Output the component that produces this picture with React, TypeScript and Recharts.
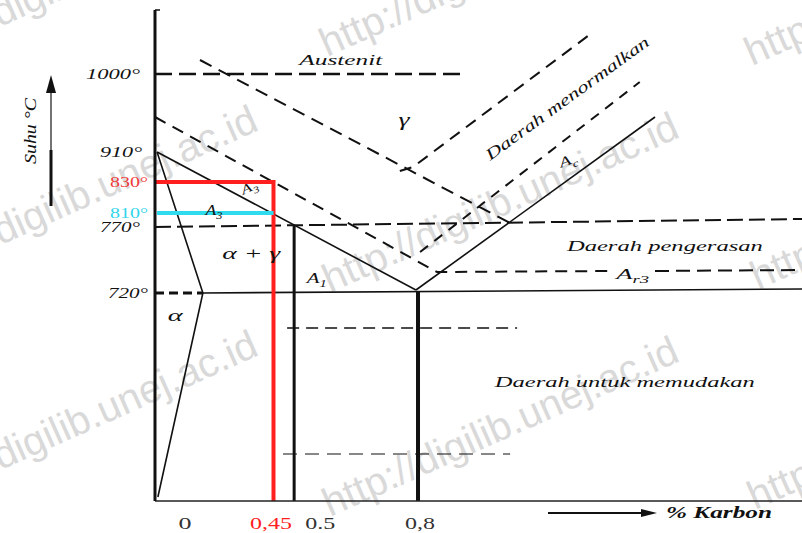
import React from 'react';
import { ComposedChart, Line, Scatter, XAxis, YAxis } from 'recharts';

// Schematic Fe-C diagram. x = carbon content (% C, schematic scale), y = diagram height level (schematic temperature)
const carbonTicks = [0.163, 0.45, 0.5, 0.8];
const carbonTickLabels = ['0', '0,45', '0.5', '0,8'];
const tempLevels = [427, 349, 319, 288, 274, 208];
const tempLabels = ['1000°', '910°', '830°', '810°', '770°', '720°'];

const isotherm1000 = [{ x: 0.163, y: 427 }, { x: 0.906, y: 427 }];
const austeniteUpper = [{ x: 0.272, y: 441 }, { x: 1.023, y: 278 }];
const normalizingUpper = [{ x: 0.756, y: 330 }, { x: 0.788, y: 334 }, { x: 1.221, y: 468 }];
const hardeningLeft = [{ x: 0.163, y: 384 }, { x: 0.846, y: 229 }, { x: 1.27, y: 230 }];
const hardeningRight = [{ x: 1.374, y: 230 }, { x: 1.73, y: 231 }];
const a3Line = [{ x: 0.168, y: 349 }, { x: 0.795, y: 211 }];
const acmLine = [{ x: 0.795, y: 211 }, { x: 1.374, y: 384 }];
const acLine = [{ x: 0.805, y: 249 }, { x: 1.337, y: 419 }];
const isotherm770 = [{ x: 0.163, y: 274 }, { x: 1.73, y: 282 }];
const isotherm720Left = [{ x: 0.163, y: 208 }, { x: 0.279, y: 208 }];
const isotherm720 = [{ x: 0.279, y: 208 }, { x: 1.73, y: 212 }];
const alphaBoundary = [{ x: 0.168, y: 349 }, { x: 0.279, y: 208 }, { x: 0.17, y: 4 }];
const steel045At830 = [{ x: 0.163, y: 319 }, { x: 0.45, y: 319 }, { x: 0.45, y: 0 }];
const steel045At810 = [{ x: 0.168, y: 288 }, { x: 0.45, y: 288 }];
const carbon05 = [{ x: 0.5, y: 275 }, { x: 0.5, y: 0 }];
const carbon08 = [{ x: 0.8, y: 210 }, { x: 0.8, y: 0 }];
const guideUpper = [{ x: 0.483, y: 173 }, { x: 1.04, y: 173 }];
const guideLower = [{ x: 0.473, y: 47 }, { x: 1.023, y: 47 }];

const noteTexts = ['Austenit', 'γ', 'Daerah menormalkan', 'A_c', 'Daerah pengerasan', 'A_r3', 'Daerah untuk memudakan', 'α + γ', 'A_3', 'A_3', 'A_1', 'α'];
const noteX = [0.613, 0.766, 1.161, 1.163, 1.398, 1.32, 1.301, 0.396, 0.306, 0.391, 0.555, 0.212];
const noteY = [441, 381, 403, 341, 255, 227, 119, 248, 291, 314, 223, 186];

// styles (not data)
const BLACK = '#111';
const RED = '#ff1f1f';
const CYAN = '#2fdcee';
const serif = "'Liberation Serif', 'DejaVu Serif', 'Times New Roman', serif";
const sans = "'Liberation Sans', Arial, 'DejaVu Sans', sans-serif";

const noteStyles = [
  { size: 15, w: 83 },
  { size: 18, w: 11 },
  { size: 16, w: 198, angle: -36 },
  { size: 14, w: 18, angle: -20 },
  { size: 15, w: 196 },
  { size: 14, w: 33 },
  { size: 15, w: 260 },
  { size: 16, w: 58 },
  { size: 14, w: 17 },
  { size: 13, w: 17, angle: -25 },
  { size: 14, w: 20 },
  { size: 17, w: 15 },
];

const lineSeries = [
  { data: isotherm1000, color: BLACK, width: 2.5, dash: '17 7' },
  { data: austeniteUpper, color: BLACK, width: 2, dash: '13 8' },
  { data: normalizingUpper, color: BLACK, width: 2, dash: '12 8' },
  { data: hardeningLeft, color: BLACK, width: 2, dash: '12 8' },
  { data: hardeningRight, color: BLACK, width: 2, dash: '14 7' },
  { data: a3Line, color: BLACK, width: 1.6 },
  { data: acmLine, color: BLACK, width: 1.6 },
  { data: acLine, color: BLACK, width: 2, dash: '10 8' },
  { data: isotherm770, color: BLACK, width: 2, dash: '16 6' },
  { data: isotherm720Left, color: BLACK, width: 3, dash: '9 5' },
  { data: isotherm720, color: BLACK, width: 1.6 },
  { data: alphaBoundary, color: BLACK, width: 1.6 },
  { data: guideUpper, color: BLACK, width: 1.4, dash: '12 7' },
  { data: guideLower, color: BLACK, width: 1.1, dash: '14 8' },
  { data: carbon05, color: BLACK, width: 3 },
  { data: carbon08, color: BLACK, width: 4 },
  { data: steel045At830, color: RED, width: 4 },
  { data: steel045At810, color: CYAN, width: 4 },
];

const xTickStyle = [
  { dx: 30, w: 13, color: '#333' },
  { dx: -2.5, w: 42, color: RED },
  { dx: 26, w: 30, color: '#333' },
  { dx: 2, w: 30, color: '#333' },
];
const yTickStyle = [
  { dx: -69, w: 54, color: BLACK, italic: true },
  { dx: -55, w: 42, color: BLACK, italic: true },
  { dx: -45, w: 38, color: '#f03a3a', italic: false },
  { dx: -45, w: 38, color: '#2fd5ea', italic: false },
  { dx: -55, w: 40, color: BLACK, italic: true },
  { dx: -47, w: 40, color: BLACK, italic: true },
];

const notes = noteTexts.map((t, i) => ({ x: noteX[i], y: noteY[i], text: t, style: noteStyles[i] }));

function rich(text: string, size: number) {
  const i = text.indexOf('_');
  if (i < 0) return text;
  return [
    <tspan key="m">{text.slice(0, i)}</tspan>,
    <tspan key="s" dy={size * 0.3} fontSize={size * 0.7}>{text.slice(i + 1)}</tspan>,
  ];
}

const NoteShape = (props: any) => {
  const { cx, cy, payload } = props;
  if (cx == null || cy == null || !payload) return null;
  const s = payload.style;
  return (
    <text
      x={cx}
      y={cy}
      dy="0.35em"
      textAnchor="middle"
      fontFamily={serif}
      fontStyle="italic"
      fontSize={s.size}
      fill={BLACK}
      textLength={s.w}
      lengthAdjust="spacingAndGlyphs"
      transform={s.angle ? `rotate(${s.angle} ${cx} ${cy})` : undefined}
    >
      {rich(payload.text, s.size)}
    </text>
  );
};

const XTick = (props: any) => {
  const { x, y, payload } = props;
  const i = carbonTicks.indexOf(payload.value);
  if (i < 0) return null;
  const st = xTickStyle[i];
  return (
    <text x={x + st.dx} y={y + 28} textAnchor="middle" fontFamily={serif} fontSize={16} fill={st.color}
      textLength={st.w} lengthAdjust="spacingAndGlyphs">
      {carbonTickLabels[i]}
    </text>
  );
};

const YTick = (props: any) => {
  const { x, y, payload } = props;
  const i = tempLevels.indexOf(payload.value);
  if (i < 0) return null;
  const st = yTickStyle[i];
  return (
    <text x={x + st.dx} y={y + 5} textAnchor="start" fontFamily={serif} fontStyle={st.italic ? 'italic' : 'normal'}
      fontSize={15} fill={st.color} textLength={st.w} lengthAdjust="spacingAndGlyphs">
      {tempLabels[i]}
    </text>
  );
};

const watermarkText = ['http://digilib.unej.ac.id'];
const watermarkX = [-92, 327, 752, -91, 330, 758, -91, 330, 755];
const watermarkY = [68, 57, 66, 286, 293, 290, 511, 517, 510];

const Watermarks = () => (
  <svg width={802} height={533} style={{ position: 'absolute', left: 0, top: 0 }}>
    {watermarkX.map((x, i) => (
      <text key={i} x={x} y={watermarkY[i]} fontFamily={sans} fontSize={40} fill="#d9d9d9"
        transform={`rotate(-24 ${x} ${watermarkY[i]})`}>
        {watermarkText[0]}
      </text>
    ))}
  </svg>
);

const AxisTitles = () => (
  <svg width={802} height={533} style={{ position: 'absolute', left: 0, top: 0, pointerEvents: 'none' }}>
    <text transform="translate(36,131) rotate(-90)" textAnchor="middle" fontFamily={serif} fontStyle="italic"
      fontSize={16} fill={BLACK} textLength={66} lengthAdjust="spacingAndGlyphs">Suhu °C</text>
    <line x1={51} y1={206} x2={51} y2={150} stroke={BLACK} strokeWidth={3} />
    <line x1={51} y1={150} x2={51} y2={88} stroke="#444" strokeWidth={1.5} />
    <polygon points="51,75 46,93 56,93" fill={BLACK} />
    <line x1={548} y1={513} x2={645} y2={513} stroke={BLACK} strokeWidth={2} />
    <polygon points="657,513 641,509 641,517" fill={BLACK} />
    <text x={666} y={518} fontFamily={serif} fontStyle="italic" fontWeight="bold" fontSize={16} fill={BLACK}
      textLength={106} lengthAdjust="spacingAndGlyphs">% Karbon</text>
    <line x1={155} y1={10} x2={160} y2={10} stroke={BLACK} strokeWidth={1.5} />
  </svg>
);

export default function App() {
  return (
    <div style={{ position: 'absolute', left: 0, top: 0, width: 802, height: 533, background: '#fff', overflow: 'hidden' }}>
      <Watermarks />
      <div style={{ position: 'absolute', left: 0, top: 0 }}>
        <ComposedChart width={802} height={533} margin={{ top: 10, right: 0, bottom: 0, left: 95 }}>
          <XAxis
            type="number"
            dataKey="x"
            domain={[0.163, 1.73]}
            allowDataOverflow
            ticks={carbonTicks}
            interval={0}
            tick={XTick}
            tickLine={false}
            tickSize={0}
            tickMargin={0}
            height={32}
            axisLine={{ stroke: '#222', strokeWidth: 1.5 }}
          />
          <YAxis
            type="number"
            dataKey="y"
            domain={[0, 491]}
            allowDataOverflow
            ticks={tempLevels}
            interval={0}
            tick={YTick}
            tickLine={false}
            tickSize={0}
            tickMargin={0}
            width={60}
            axisLine={{ stroke: BLACK, strokeWidth: 3 }}
          />
          {lineSeries.map((s, i) => (
            <Line
              key={i}
              data={s.data}
              dataKey="y"
              type="linear"
              stroke={s.color}
              strokeWidth={s.width}
              strokeDasharray={s.dash}
              dot={false}
              activeDot={false}
              legendType="none"
              isAnimationActive={false}
            />
          ))}
          <Scatter data={notes} dataKey="y" shape={NoteShape} legendType="none" isAnimationActive={false} />
        </ComposedChart>
      </div>
      <AxisTitles />
    </div>
  );
}
